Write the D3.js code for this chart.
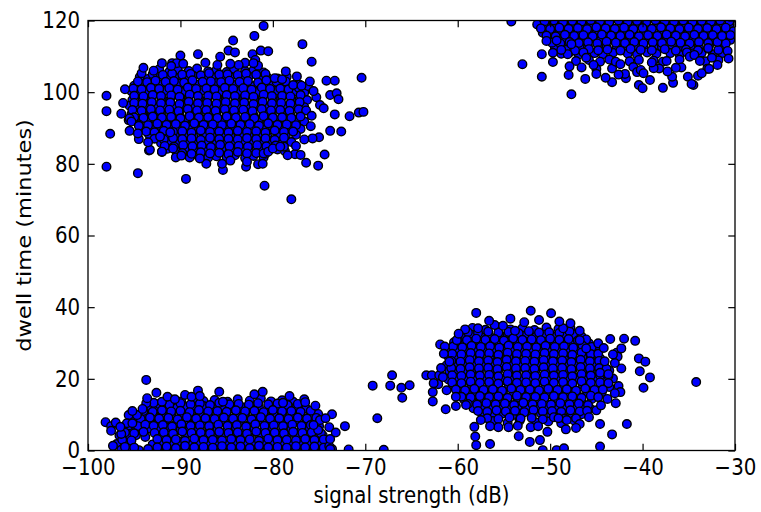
<!DOCTYPE html>
<html>
<head>
<meta charset="utf-8">
<script src="https://cdnjs.cloudflare.com/ajax/libs/d3/7.8.5/d3.min.js"></script>
<style>
  body { margin: 0; background: #fff; }
  text { font-family: "DejaVu Sans", sans-serif; fill: #000; }
</style>
</head>
<body>
<div id="chart"></div>
<script>
// Tick values
var xTicks = [-100, -90, -80, -70, -60, -50, -40, -30];
var yTicks = [0, 20, 40, 60, 80, 100, 120];

// Points, one array per cluster: [signal dB, dwell minutes]
var topLeft = [
  [-92.3,106.4],[-91.2,105.7],[-90.3,106.3],[-89.1,105.9],[-88.2,106.6],[-87.0,105.8],[-86.1,106.2],[-85.0,105.6],[-84.2,106.5],[-83.0,105.9],[-82.1,106.1],[-81.0,105.5],
  [-94.4,104.2],[-93.5,103.7],[-92.6,104.4],[-91.5,103.9],[-90.6,104.1],[-89.5,103.6],[-88.6,104.5],[-87.5,103.8],[-86.6,104.3],[-85.5,103.7],[-84.6,104.2],[-83.5,103.9],[-82.6,104.4],[-81.5,103.6],[-80.6,104.1],[-79.5,103.8],[-78.5,104.3],
  [-95.0,101.8],[-94.0,102.3],[-93.0,101.6],[-92.1,102.2],[-91.0,101.9],[-90.1,102.4],[-89.0,101.7],[-88.1,102.1],[-87.0,101.8],[-86.1,102.5],[-85.0,101.6],[-84.1,102.0],[-83.0,102.3],[-82.1,101.7],[-81.0,102.2],[-80.1,101.9],[-79.0,102.4],[-78.1,101.6],[-77.1,102.1],
  [-95.3,100.3],[-94.4,99.8],[-93.5,100.2],[-92.5,99.6],[-91.6,100.4],[-90.5,99.9],[-89.6,100.1],[-88.5,99.7],[-87.6,100.5],[-86.5,99.8],[-85.6,100.2],[-84.5,99.6],[-83.6,100.3],[-82.5,99.9],[-81.6,100.1],[-80.5,99.7],[-79.6,100.4],[-78.5,99.8],[-77.6,100.2],[-76.6,99.9],
  [-95.2,97.8],[-94.1,98.3],[-93.1,97.7],[-92.0,98.1],[-91.1,97.9],[-90.0,98.4],[-89.1,97.6],[-88.0,98.2],[-87.1,97.8],[-86.0,98.3],[-85.1,97.7],[-84.0,98.0],[-83.1,98.4],[-82.0,97.6],[-81.1,98.2],[-80.0,97.9],[-79.1,98.3],[-78.0,97.7],[-77.1,98.1],[-76.3,97.8],
  [-95.5,96.2],[-94.6,95.7],[-93.6,96.3],[-92.6,95.8],[-91.5,96.1],[-90.6,95.6],[-89.5,96.4],[-88.6,95.9],[-87.5,96.2],[-86.6,95.7],[-85.5,96.3],[-84.6,95.8],[-83.5,96.0],[-82.6,95.6],[-81.5,96.4],[-80.6,95.9],[-79.5,96.1],[-78.6,95.7],[-77.5,96.3],[-76.6,95.8],
  [-95.3,93.8],[-94.1,94.3],[-93.1,93.7],[-92.1,94.2],[-91.0,93.9],[-90.1,94.4],[-89.0,93.6],[-88.1,94.1],[-87.0,93.8],[-86.1,94.3],[-85.0,93.7],[-84.1,94.0],[-83.0,94.4],[-82.1,93.6],[-81.0,94.2],[-80.1,93.9],[-79.0,94.3],[-78.1,93.7],[-77.0,94.1],
  [-95.6,92.2],[-94.6,91.7],[-93.5,92.3],[-92.6,91.8],[-91.5,92.1],[-90.6,91.6],[-89.5,92.4],[-88.6,91.9],[-87.5,92.2],[-86.6,91.7],[-85.5,92.3],[-84.6,91.8],[-83.5,92.0],[-82.6,91.6],[-81.5,92.4],[-80.6,91.9],[-79.5,92.1],[-78.6,91.7],[-77.5,92.3],[-76.6,91.8],
  [-94.0,89.8],[-93.1,90.3],[-92.0,89.7],[-91.1,90.1],[-90.0,89.9],[-89.1,90.4],[-88.0,89.6],[-87.1,90.2],[-86.0,89.8],[-85.1,90.3],[-84.0,89.7],[-83.1,90.0],[-82.0,90.4],[-81.1,89.6],[-80.0,90.2],[-79.1,89.9],[-78.0,90.3],[-77.0,89.7],
  [-93.4,88.2],[-92.5,87.7],[-91.5,88.3],[-90.6,87.8],[-89.5,88.1],[-88.6,87.6],[-87.5,88.4],[-86.6,87.9],[-85.5,88.2],[-84.6,87.7],[-83.5,88.3],[-82.6,87.8],[-81.5,88.0],[-80.6,87.6],[-79.5,88.4],[-78.6,87.9],[-77.5,88.1],
  [-92.1,85.8],[-91.0,86.3],[-90.1,85.7],[-89.0,86.1],[-88.1,85.9],[-87.0,86.4],[-86.1,85.6],[-85.0,86.2],[-84.1,85.8],[-83.0,86.3],[-82.1,85.7],[-81.0,86.0],[-80.1,86.4],[-79.0,85.6],[-78.0,86.1],
  [-91.4,84.2],[-90.5,83.7],[-89.5,84.3],[-88.6,83.8],[-87.5,84.1],[-86.6,83.6],[-85.5,84.4],[-84.6,83.9],[-83.5,84.2],[-82.6,83.7],[-81.5,84.3],[-80.6,83.8],[-79.5,84.0],[-78.7,83.6],
  [-89.0,81.8],[-88.1,82.3],[-87.0,81.7],[-86.1,82.1],[-85.0,81.9],[-84.1,82.4],[-83.0,81.6],[-82.1,82.2],[-81.0,81.8],
  // in-between rows of the dense core
  [-93.0,105.0],[-91.9,104.8],[-90.9,105.2],[-89.8,104.9],[-88.9,105.1],[-87.8,104.7],[-86.9,105.3],[-85.8,104.9],[-84.9,105.0],[-83.8,104.8],[-82.9,105.2],[-81.8,104.9],[-80.8,105.1],
  [-94.6,103.0],[-93.6,102.8],[-92.7,103.2],[-91.6,102.9],[-90.7,103.1],[-89.6,102.7],[-88.7,103.3],[-87.6,102.9],[-86.7,103.0],[-85.6,102.8],[-84.7,103.2],[-83.6,102.9],[-82.7,103.1],[-81.6,102.7],[-80.7,103.3],[-79.6,102.9],[-78.6,103.0],
  [-95.1,101.0],[-94.2,100.8],[-93.2,101.2],[-92.3,100.9],[-91.2,101.1],[-90.3,100.7],[-89.2,101.3],[-88.3,100.9],[-87.2,101.0],[-86.3,100.8],[-85.2,101.2],[-84.3,100.9],[-83.2,101.1],[-82.3,100.7],[-81.2,101.3],[-80.3,100.9],[-79.2,101.0],[-78.3,100.8],[-77.2,101.2],
  [-95.0,99.0],[-94.0,98.8],[-93.0,99.2],[-92.1,98.9],[-91.0,99.1],[-90.1,98.7],[-89.0,99.3],[-88.1,98.9],[-87.0,99.0],[-86.1,98.8],[-85.0,99.2],[-84.1,98.9],[-83.0,99.1],[-82.1,98.7],[-81.0,99.3],[-80.1,98.9],[-79.0,99.0],[-78.1,98.8],[-77.0,99.2],
  [-95.0,97.0],[-94.1,96.8],[-93.1,97.2],[-92.1,96.9],[-91.1,97.1],[-90.1,96.7],[-89.1,97.3],[-88.1,96.9],[-87.1,97.0],[-86.1,96.8],[-85.1,97.2],[-84.1,96.9],[-83.1,97.1],[-82.1,96.7],[-81.1,97.3],[-80.1,96.9],[-79.1,97.0],[-78.1,96.8],[-77.1,97.2],
  [-95.2,95.0],[-94.2,94.8],[-93.2,95.2],[-92.2,94.9],[-91.2,95.1],[-90.2,94.7],[-89.2,95.3],[-88.2,94.9],[-87.2,95.0],[-86.2,94.8],[-85.2,95.2],[-84.2,94.9],[-83.2,95.1],[-82.2,94.7],[-81.2,95.3],[-80.2,94.9],[-79.2,95.0],[-78.2,94.8],[-77.2,95.2],[-76.4,94.9],
  [-95.0,93.0],[-94.0,92.8],[-93.0,93.2],[-92.0,92.9],[-91.0,93.1],[-90.0,92.7],[-89.0,93.3],[-88.0,92.9],[-87.0,93.0],[-86.0,92.8],[-85.0,93.2],[-84.0,92.9],[-83.0,93.1],[-82.0,92.7],[-81.0,93.3],[-80.0,92.9],[-79.0,93.0],[-78.0,92.8],[-77.0,93.2],
  [-94.5,91.0],[-93.5,90.8],[-92.5,91.2],[-91.5,90.9],[-90.5,91.1],[-89.5,90.7],[-88.5,91.3],[-87.5,90.9],[-86.5,91.0],[-85.5,90.8],[-84.5,91.2],[-83.5,90.9],[-82.5,91.1],[-81.5,90.7],[-80.5,91.3],[-79.5,90.9],[-78.5,91.0],[-77.5,90.8],
  [-93.7,89.0],[-92.8,88.8],[-91.8,89.2],[-90.8,88.9],[-89.8,89.1],[-88.8,88.7],[-87.8,89.3],[-86.8,88.9],[-85.8,89.0],[-84.8,88.8],[-83.8,89.2],[-82.8,88.9],[-81.8,89.1],[-80.8,88.7],[-79.8,89.3],[-78.8,88.9],[-77.8,89.0],
  [-92.8,87.0],[-91.8,86.8],[-90.8,87.2],[-89.8,86.9],[-88.8,87.1],[-87.8,86.7],[-86.8,87.3],[-85.8,86.9],[-84.8,87.0],[-83.8,86.8],[-82.8,87.2],[-81.8,86.9],[-80.8,87.1],[-79.8,86.7],[-78.8,87.3],
  [-91.7,85.0],[-90.7,84.8],[-89.7,85.2],[-88.7,84.9],[-87.7,85.1],[-86.7,84.7],[-85.7,85.3],[-84.7,84.9],[-83.7,85.0],[-82.7,84.8],[-81.7,85.2],[-80.7,84.9],[-79.7,85.1],[-78.8,84.8],
  [-89.8,83.0],[-88.8,82.8],[-87.8,83.2],[-86.8,82.9],[-85.8,83.1],[-84.8,82.7],[-83.8,83.3],[-82.8,82.9],[-81.8,83.0],[-80.8,82.8],
  // scattered edge
  [-98.0,99.0],[-98.0,94.7],[-97.6,88.4],[-98.0,79.2],[-94.6,77.4],[-89.4,75.8],[-95.5,92.7],[-95.3,91.8],[-95.5,89.2],[-94.5,90.6],
  [-94.5,86.9],[-93.4,83.7],[-92.0,83.3],[-90.5,81.8],[-92.0,108.1],[-90.0,110.2],[-88.1,110.6],[-81.0,118.5],[-82.0,115.7],[-84.3,114.4],
  [-76.8,113.4],[-84.8,111.6],[-84.1,111.1],[-81.3,111.6],[-80.5,111.4],[-75.8,108.5],[-82.2,110.6],[-81.9,109.0],[-81.6,107.4],[-85.7,109.9],
  [-74.2,103.2],[-73.3,103.2],[-70.4,104.0],[-76.2,101.7],[-73.8,99.2],[-73.1,99.7],[-72.9,98.0],[-75.3,98.6],[-74.9,96.4],[-74.5,95.5],
  [-73.3,93.8],[-71.7,93.3],[-70.7,94.3],[-70.2,94.5],[-73.8,89.2],[-72.6,89.0],[-75.0,87.4],[-75.7,87.1],[-74.4,82.6],[-75.1,79.5],
  [-77.6,82.7],[-77.0,82.5],[-76.4,80.3],[-80.9,73.9],[-78.0,70.1],[-85.4,78.3],[-87.2,80.0],[-82.9,79.2],[-81.6,79.9],[-81.1,80.0],
  [-92.9,106.0],[-94.2,105.3],[-90.9,108.1],[-90.4,108.1],[-89.7,107.9],[-87.3,108.2],[-83.0,108.2],[-83.7,107.6],[-82.1,108.1],[-79.8,103.9],
  [-79.0,103.6],[-77.8,102.0],[-76.9,101.8],[-92.2,87.6],[-91.1,88.8],[-90.8,84.3],[-92.0,83.4],[-93.3,83.9],[-87.9,81.5],[-85.5,80.0],
  [-81.0,82.9],[-80.5,83.4],[-80.0,84.3],[-79.2,84.8],
  [-96.2,97.0],[-96.4,94.0],[-96.0,100.8],[-94.0,106.8],[-91.0,107.3],[-86.0,107.6],[-84.6,107.9],[-78.6,105.8],[-77.4,104.4],[-76.0,103.0],
  [-75.6,100.3],[-75.8,93.4],[-75.9,90.5],[-76.6,86.8],[-77.5,85.0],[-78.4,82.4],[-82.8,80.6],[-84.6,80.9],[-89.9,82.3],[-93.5,86.0],[-94.6,88.5]
];

var topRight = [
  [-51.0,120.9],[-50.0,121.2],[-49.1,120.7],[-48.0,121.0],[-47.1,120.6],[-46.0,121.1],[-45.1,120.8],[-44.0,121.3],[-43.1,120.7],[-42.0,121.0],[-41.1,120.6],[-40.0,121.2],[-39.1,120.8],[-38.0,121.1],[-37.1,120.6],[-36.0,121.0],[-35.1,120.7],[-34.0,121.2],[-33.1,120.9],[-32.0,120.6],[-31.1,121.1],[-30.2,120.8],
  [-51.4,118.9],[-50.5,118.5],[-49.6,119.1],[-48.5,118.6],[-47.6,119.0],[-46.5,118.7],[-45.6,119.2],[-44.5,118.6],[-43.6,118.9],[-42.5,118.5],[-41.6,119.1],[-40.5,118.7],[-39.6,119.0],[-38.5,118.6],[-37.6,119.2],[-36.5,118.8],[-35.6,118.5],[-34.5,119.0],[-33.6,118.7],[-32.5,119.1],[-31.6,118.6],[-30.6,118.9],
  [-50.8,116.6],[-49.9,117.0],[-49.0,116.5],[-47.9,116.9],[-47.0,116.7],[-45.9,117.1],[-45.0,116.5],[-43.9,116.8],[-43.0,116.6],[-41.9,117.0],[-41.0,116.5],[-39.9,116.9],[-39.0,116.7],[-37.9,117.1],[-37.0,116.6],[-35.9,116.8],[-35.0,116.5],[-33.9,117.0],[-33.0,116.7],[-31.9,116.9],[-31.0,116.6],[-30.2,117.0],
  [-50.2,114.6],[-49.4,115.0],[-48.4,114.5],[-47.4,114.9],[-46.5,114.7],[-45.4,115.1],[-44.5,114.5],[-43.4,114.8],[-42.5,114.6],[-41.4,115.0],[-40.5,114.5],[-39.4,114.9],[-38.5,114.7],[-37.4,115.1],[-36.5,114.6],[-35.4,114.8],[-34.5,114.5],[-33.4,115.0],[-32.5,114.7],[-31.4,114.9],[-30.5,114.6],
  [-49.5,112.6],[-48.7,113.0],[-47.8,112.5],[-46.8,112.9],[-45.9,112.7],[-44.8,113.1],[-43.9,112.5],[-42.8,112.8],[-41.9,112.6],[-40.8,113.0],[-39.9,112.5],[-38.8,112.9],[-37.9,112.7],[-36.8,113.1],[-35.9,112.6],[-34.8,112.8],[-33.9,112.5],[-32.8,113.0],[-31.6,112.7],
  [-48.8,110.7],[-47.9,111.1],[-46.9,110.5],[-45.2,110.9],[-44.3,110.6],[-43.2,111.0],[-41.6,110.8],[-40.6,110.5],[-39.5,111.1],[-38.5,110.7],[-37.0,110.9],[-36.0,110.5],[-34.6,110.8],[-33.6,111.0],[-32.4,110.6],[-31.4,110.9],
  [-47.2,108.7],[-45.8,109.0],[-44.6,108.5],[-43.6,109.1],[-41.4,108.6],[-40.4,109.0],[-38.8,108.8],[-37.8,108.5],[-36.0,109.1],[-33.2,108.6],[-31.8,108.9],
  [-46.6,106.9],[-45.0,106.5],[-41.0,107.0],[-38.2,106.6],[-35.8,106.9],[-33.0,106.5],
  // in-between rows of the dense core
  [-50.6,119.8],[-49.6,120.0],[-48.6,119.6],[-47.6,119.9],[-46.6,119.7],[-45.6,120.1],[-44.6,119.8],[-43.6,119.6],[-42.6,120.0],[-41.6,119.7],[-40.6,119.9],[-39.6,119.6],[-38.6,120.1],[-37.6,119.8],[-36.6,119.7],[-35.6,120.0],[-34.6,119.6],[-33.6,119.9],[-32.6,119.7],[-31.6,120.0],[-30.6,119.8],
  [-51.0,117.8],[-50.0,117.6],[-49.0,118.0],[-48.0,117.7],[-47.0,117.9],[-46.0,117.6],[-45.0,118.1],[-44.0,117.8],[-43.0,117.7],[-42.0,118.0],[-41.0,117.6],[-40.0,117.9],[-39.0,117.7],[-38.0,118.1],[-37.0,117.8],[-36.0,117.6],[-35.0,118.0],[-34.0,117.7],[-33.0,117.9],[-32.0,117.6],[-31.0,118.0],
  [-50.4,115.8],[-49.4,115.6],[-48.4,116.0],[-47.4,115.7],[-46.4,115.9],[-45.4,115.6],[-44.4,116.1],[-43.4,115.8],[-42.4,115.7],[-41.4,116.0],[-40.4,115.6],[-39.4,115.9],[-38.4,115.7],[-37.4,116.1],[-36.4,115.8],[-35.4,115.6],[-34.4,116.0],[-33.4,115.7],[-32.4,115.9],[-31.4,115.6],[-30.5,115.9],
  [-49.8,113.8],[-48.9,113.6],[-47.9,114.0],[-46.9,113.7],[-45.9,113.9],[-44.9,113.6],[-43.9,114.1],[-42.9,113.8],[-41.9,113.7],[-40.9,114.0],[-39.9,113.6],[-38.9,113.9],[-37.9,113.7],[-36.9,114.1],[-35.9,113.8],[-34.9,113.6],[-33.9,114.0],[-32.9,113.7],[-31.9,113.9],[-31.0,113.6],
  [-48.3,111.8],[-47.3,111.6],[-45.8,112.0],[-44.8,111.7],[-43.8,111.9],[-42.4,111.6],[-41.3,112.1],[-40.2,111.8],[-39.0,111.7],[-37.6,112.0],[-36.4,111.6],[-35.3,111.9],[-34.0,111.7],[-32.9,112.1],[-31.8,111.8],
  // scattered edge
  [-54.2,119.7],[-50.9,110.6],[-53.0,107.8],[-50.9,104.3],[-48.0,104.8],[-47.7,99.4],[-46.2,103.7],[-45.0,105.1],[-43.3,102.8],[-41.8,103.9],
  [-40.4,102.0],[-40.0,101.1],[-39.2,103.4],[-37.8,101.2],[-36.7,102.6],[-35.1,104.3],[-34.5,102.0],[-34.0,104.6],[-33.6,105.3],[-32.8,106.5],
  [-48.1,110.6],[-46.4,111.1],[-46.1,109.6],[-45.3,107.6],[-43.3,106.6],[-42.9,108.5],[-42.4,107.8],[-41.9,105.1],[-40.6,105.6],[-40.2,106.2],
  [-39.9,105.3],[-38.8,106.7],[-37.4,108.7],[-36.4,106.8],[-35.2,111.1],[-34.9,109.9],[-34.4,110.4],[-33.8,108.7],[-32.9,112.3],[-32.5,109.6],
  [-31.9,114.0],[-31.4,115.7],[-30.8,111.5],[-50.4,114.3],[-49.3,114.4],[-48.8,111.8],[-47.7,113.4],[-34.7,102.3],
  [-49.7,108.4],[-47.9,107.2],[-44.0,104.0],[-42.6,104.9],[-39.0,108.3],[-36.8,104.3],[-37.3,105.8],[-31.9,107.6],[-30.7,109.4],[-49.7,111.0]
];

var bottomLeft = [
  [-91.0,14.2],[-89.9,13.7],[-88.6,14.4],[-87.5,13.8],[-86.3,14.1],[-84.9,13.6],[-83.8,14.3],[-82.5,13.9],[-81.3,14.5],[-80.2,13.7],[-79.0,14.0],[-77.8,13.6],
  [-93.3,12.2],[-92.4,11.7],[-91.5,12.3],[-90.4,11.8],[-89.5,12.1],[-88.4,11.6],[-87.5,12.4],[-86.4,11.9],[-85.5,12.2],[-84.4,11.7],[-83.5,12.3],[-82.4,11.8],[-81.5,12.0],[-80.4,11.6],[-79.5,12.4],[-78.4,11.9],[-77.5,12.1],[-76.4,11.7],
  [-94.6,9.8],[-93.8,10.3],[-92.9,9.7],[-91.9,10.1],[-91.0,9.9],[-89.9,10.4],[-89.0,9.6],[-87.9,10.2],[-87.0,9.8],[-85.9,10.3],[-85.0,9.7],[-83.9,10.0],[-83.0,10.4],[-81.9,9.6],[-81.0,10.2],[-79.9,9.9],[-79.0,10.3],[-77.9,9.7],[-77.0,10.1],[-75.9,9.8],[-75.1,10.2],
  [-95.0,8.2],[-94.1,7.7],[-93.4,8.3],[-92.4,7.8],[-91.5,8.1],[-90.4,7.6],[-89.5,8.4],[-88.4,7.9],[-87.5,8.2],[-86.4,7.7],[-85.5,8.3],[-84.4,7.8],[-83.5,8.0],[-82.4,7.6],[-81.5,8.4],[-80.4,7.9],[-79.5,8.1],[-78.4,7.7],[-77.5,8.3],[-76.4,7.8],[-75.5,8.0],
  [-96.1,5.8],[-95.2,6.3],[-94.3,5.7],[-93.3,6.1],[-92.5,5.9],[-91.5,6.4],[-90.0,5.6],[-89.0,6.2],[-88.0,5.8],[-86.9,6.3],[-86.0,5.7],[-84.9,6.0],[-84.0,6.4],[-82.9,5.6],[-82.0,6.2],[-80.9,5.9],[-80.0,6.3],[-78.9,5.7],[-78.0,6.1],[-76.9,5.8],[-76.0,6.2],[-75.1,5.7],
  [-96.6,4.2],[-95.6,3.7],[-94.8,4.3],[-93.8,3.8],[-92.0,4.1],[-91.0,3.6],[-89.5,4.4],[-88.5,3.9],[-87.5,4.2],[-86.5,3.7],[-85.5,4.3],[-84.5,3.8],[-83.5,4.0],[-82.5,3.6],[-81.5,4.4],[-80.5,3.9],[-79.5,4.1],[-78.5,3.7],[-77.5,4.3],[-76.5,3.8],[-75.5,4.0],[-74.6,4.2],
  [-96.9,1.8],[-96.0,2.3],[-93.0,1.7],[-92.0,2.1],[-91.0,1.9],[-90.0,2.4],[-89.0,1.6],[-88.0,2.2],[-87.0,1.8],[-86.0,2.3],[-85.0,1.7],[-84.0,2.0],[-83.0,2.4],[-82.0,1.6],[-81.0,2.2],[-80.0,1.9],[-79.0,2.3],[-78.0,1.7],[-77.0,2.1],[-76.0,1.8],[-75.0,2.2],[-74.1,1.9],
  [-96.4,0.2],[-95.4,0.5],[-94.5,0.1],[-93.5,0.4],[-92.5,0.2],[-91.5,0.6],[-90.5,0.1],[-89.5,0.3],[-88.5,0.5],[-87.5,0.2],[-86.5,0.4],[-85.5,0.1],[-84.5,0.5],[-83.5,0.3],[-82.5,0.2],[-81.5,0.6],[-80.5,0.1],[-79.5,0.4],[-78.5,0.3],[-77.5,0.5],[-76.5,0.1],[-75.5,0.3],[-74.5,0.2],[-73.6,0.4],
  // in-between rows of the dense core
  [-92.3,13.0],[-91.2,12.8],[-90.0,13.2],[-88.9,12.9],[-87.9,13.1],[-86.8,12.7],[-85.8,13.3],[-84.7,12.9],[-83.7,13.0],[-82.6,12.8],[-81.6,13.2],[-80.5,12.9],[-79.5,13.1],[-78.4,12.7],[-77.3,13.0],
  [-94.0,11.0],[-93.0,10.8],[-92.0,11.2],[-91.0,10.9],[-90.0,11.1],[-89.0,10.7],[-88.0,11.3],[-87.0,10.9],[-86.0,11.0],[-85.0,10.8],[-84.0,11.2],[-83.0,10.9],[-82.0,11.1],[-81.0,10.7],[-80.0,11.3],[-79.0,10.9],[-78.0,11.0],[-77.0,10.8],[-75.9,11.1],
  [-95.2,9.0],[-94.3,8.8],[-93.3,9.2],[-92.3,8.9],[-91.3,9.1],[-90.3,8.7],[-89.3,9.3],[-88.3,8.9],[-87.3,9.0],[-86.3,8.8],[-85.3,9.2],[-84.3,8.9],[-83.3,9.1],[-82.3,8.7],[-81.3,9.3],[-80.3,8.9],[-79.3,9.0],[-78.3,8.8],[-77.3,9.2],[-76.3,8.9],[-75.3,9.1],
  [-95.6,7.0],[-94.6,6.8],[-93.8,7.2],[-92.9,6.9],[-91.9,7.1],[-90.9,6.7],[-89.9,7.3],[-88.9,6.9],[-87.9,7.0],[-86.9,6.8],[-85.9,7.2],[-84.9,6.9],[-83.9,7.1],[-82.9,6.7],[-81.9,7.3],[-80.9,6.9],[-79.9,7.0],[-78.9,6.8],[-77.9,7.2],[-76.9,6.9],[-75.9,7.1],[-75.0,6.8],
  [-96.0,5.0],[-95.0,4.8],[-94.0,5.2],[-92.8,4.9],[-91.8,5.1],[-90.8,4.7],[-89.8,5.3],[-88.8,4.9],[-87.8,5.0],[-86.8,4.8],[-85.8,5.2],[-84.8,4.9],[-83.8,5.1],[-82.8,4.7],[-81.8,5.3],[-80.8,4.9],[-79.8,5.0],[-78.8,4.8],[-77.8,5.2],[-76.8,4.9],[-75.8,5.1],[-74.8,4.8],
  [-96.3,3.0],[-95.3,2.8],[-92.5,3.2],[-91.5,2.9],[-90.5,3.1],[-89.5,2.7],[-88.5,3.3],[-87.5,2.9],[-86.5,3.0],[-85.5,2.8],[-84.5,3.2],[-83.5,2.9],[-82.5,3.1],[-81.5,2.7],[-80.5,3.3],[-79.5,2.9],[-78.5,3.0],[-77.5,2.8],[-76.5,3.2],[-75.5,2.9],[-74.5,3.1],
  [-96.0,1.0],[-95.0,0.8],[-92.5,0.9],[-91.5,1.1],[-90.5,0.7],[-89.5,1.3],[-88.5,0.9],[-87.5,1.0],[-86.5,0.8],[-85.5,1.2],[-84.5,0.9],[-83.5,1.1],[-82.5,0.7],[-81.5,1.3],[-80.5,0.9],[-79.5,1.0],[-78.5,0.8],[-77.5,1.2],[-76.5,0.9],[-75.5,1.1],[-74.5,0.8],[-73.9,1.2],
  // scattered edge
  [-93.7,19.7],[-98.1,7.9],[-97.5,6.8],[-97.0,7.8],[-97.5,5.5],[-97.3,1.3],[-96.4,4.6],[-95.6,9.9],[-94.7,9.9],[-95.8,7.6],
  [-95.2,7.6],[-92.6,16.1],[-92.9,13.3],[-93.7,13.2],[-92.0,13.6],[-91.4,15.0],[-90.6,14.3],[-89.5,15.5],[-88.8,15.0],[-88.1,16.7],
  [-87.9,15.2],[-85.8,16.4],[-85.4,13.6],[-82.0,15.7],[-81.1,16.4],[-78.2,15.2],[-76.6,14.3],[-78.9,13.3],[-73.6,10.1],[-73.9,6.5],
  [-72.2,6.8],[-71.8,0.3],[-73.8,0.4],[-74.9,8.5],[-75.1,5.7],[-75.6,7.1],
  [-73.8,3.2],[-73.2,5.0],[-74.3,9.0],[-75.4,12.5],[-76.5,13.5],[-94.1,11.6],[-95.2,11.0],[-93.6,14.6],[-96.5,6.6]
];

var bottomRight = [
  [-58.4,34.2],[-57.0,33.7],[-55.6,34.4],[-54.3,33.8],[-53.0,34.1],[-51.7,33.6],[-50.4,34.3],[-49.1,33.9],[-47.8,34.2],
  [-59.4,31.8],[-58.5,32.3],[-57.5,31.7],[-56.6,32.1],[-55.5,31.9],[-54.6,32.4],[-53.5,31.6],[-52.6,32.2],[-51.5,31.8],[-50.6,32.3],[-49.5,31.7],[-48.6,32.0],[-47.5,32.4],[-46.6,31.8],
  [-60.4,30.2],[-59.5,29.7],[-58.6,30.3],[-57.5,29.8],[-56.6,30.1],[-55.5,29.6],[-54.6,30.4],[-53.5,29.9],[-52.6,30.2],[-51.5,29.7],[-50.6,30.3],[-49.5,29.8],[-48.6,30.0],[-47.5,29.6],[-46.5,30.4],[-45.8,29.9],
  [-60.7,27.8],[-59.9,28.3],[-59.0,27.7],[-58.0,28.1],[-57.1,27.9],[-56.0,28.4],[-55.1,27.6],[-54.0,28.2],[-53.1,27.8],[-52.0,28.3],[-51.1,27.7],[-50.0,28.0],[-49.1,28.4],[-48.0,27.6],[-47.1,28.2],[-46.0,27.9],[-45.1,28.3],
  [-61.0,26.2],[-60.2,25.7],[-59.4,26.3],[-58.5,25.8],[-57.6,26.1],[-56.5,25.6],[-55.6,26.4],[-54.5,25.9],[-53.6,26.2],[-52.5,25.7],[-51.6,26.3],[-50.5,25.8],[-49.6,26.0],[-48.5,25.6],[-47.6,26.4],[-46.5,25.9],[-45.6,26.1],[-44.6,25.7],
  [-61.2,23.8],[-60.3,24.3],[-59.0,23.7],[-58.0,24.1],[-57.1,23.9],[-56.0,24.4],[-55.1,23.6],[-54.0,24.2],[-53.1,23.8],[-52.0,24.3],[-51.1,23.7],[-50.0,24.0],[-49.1,24.4],[-48.0,23.6],[-47.1,24.2],[-46.0,23.9],[-45.1,24.3],[-44.2,23.7],
  [-60.9,22.2],[-60.0,21.7],[-59.4,22.3],[-58.5,21.8],[-57.6,22.1],[-56.5,21.6],[-55.6,22.4],[-54.5,21.9],[-53.6,22.2],[-52.5,21.7],[-51.6,22.3],[-50.5,21.8],[-49.6,22.0],[-48.5,21.6],[-47.6,22.4],[-46.5,21.9],[-45.6,22.1],[-44.5,21.7],[-43.6,22.3],
  [-61.0,19.8],[-60.1,20.3],[-59.0,19.7],[-58.0,20.1],[-57.1,19.9],[-56.0,20.4],[-55.1,19.6],[-54.0,20.2],[-53.1,19.8],[-52.0,20.3],[-51.1,19.7],[-50.0,20.0],[-49.1,20.4],[-48.0,19.6],[-47.1,20.2],[-46.0,19.9],[-45.1,20.3],[-44.0,19.7],[-43.2,20.1],
  [-60.5,18.2],[-59.6,17.7],[-58.5,18.3],[-57.6,17.8],[-56.5,18.1],[-55.6,17.6],[-54.5,18.4],[-53.6,17.9],[-52.5,18.2],[-51.6,17.7],[-50.5,18.3],[-49.6,17.8],[-48.5,18.0],[-47.6,17.6],[-46.5,18.4],[-45.6,17.9],[-44.5,18.1],[-43.6,17.7],
  [-59.9,15.8],[-59.0,16.3],[-58.0,15.7],[-57.1,16.1],[-56.0,15.9],[-55.1,16.4],[-54.0,15.6],[-53.1,16.2],[-52.0,15.8],[-51.1,16.3],[-50.0,15.7],[-49.1,16.0],[-48.0,16.4],[-47.1,15.6],[-46.0,16.2],[-45.1,15.9],[-44.4,16.3],
  [-59.3,14.2],[-58.5,13.7],[-57.5,14.3],[-56.6,13.8],[-55.5,14.1],[-54.6,13.6],[-53.5,14.4],[-52.6,13.9],[-51.5,14.2],[-50.6,13.7],[-49.5,14.3],[-48.6,13.8],[-47.5,14.0],[-46.6,13.6],[-45.5,14.4],
  [-58.3,11.8],[-57.4,12.3],[-56.5,11.7],[-55.5,12.1],[-54.6,11.9],[-53.5,12.4],[-52.6,11.6],[-51.5,12.2],[-50.6,11.8],[-49.5,12.3],[-48.6,11.7],[-47.5,12.0],[-46.6,12.4],[-45.7,11.8],
  [-57.3,10.2],[-56.2,9.7],[-55.2,10.3],[-54.1,9.8],[-53.1,10.1],[-52.0,9.6],[-51.0,10.4],[-49.9,9.9],[-48.9,10.2],[-47.8,9.7],[-46.6,10.1],
  [-56.2,8.2],[-54.6,7.7],[-53.3,8.3],[-51.5,7.8],[-50.2,8.1],[-48.8,7.6],[-47.4,8.4],
  // in-between rows of the dense core
  [-58.9,33.0],[-57.8,32.8],[-56.7,33.2],[-55.6,32.9],[-54.5,33.1],[-53.4,32.7],[-52.3,33.3],[-51.2,32.9],[-50.1,33.0],[-49.0,32.8],[-47.9,33.2],
  [-60.0,31.0],[-59.0,30.8],[-58.0,31.2],[-57.0,30.9],[-56.0,31.1],[-55.0,30.7],[-54.0,31.3],[-53.0,30.9],[-52.0,31.0],[-51.0,30.8],[-50.0,31.2],[-49.0,30.9],[-48.0,31.1],[-47.0,30.7],[-46.1,31.0],
  [-60.5,29.0],[-59.5,28.8],[-58.5,29.2],[-57.5,28.9],[-56.5,29.1],[-55.5,28.7],[-54.5,29.3],[-53.5,28.9],[-52.5,29.0],[-51.5,28.8],[-50.5,29.2],[-49.5,28.9],[-48.5,29.1],[-47.5,28.7],[-46.5,29.3],[-45.5,28.9],
  [-60.6,27.0],[-59.6,26.8],[-58.6,27.2],[-57.6,26.9],[-56.6,27.1],[-55.6,26.7],[-54.6,27.3],[-53.6,26.9],[-52.6,27.0],[-51.6,26.8],[-50.6,27.2],[-49.6,26.9],[-48.6,27.1],[-47.6,26.7],[-46.6,27.3],[-45.6,26.9],[-44.8,27.0],
  [-60.7,25.0],[-59.7,24.8],[-58.7,25.2],[-57.7,24.9],[-56.7,25.1],[-55.7,24.7],[-54.7,25.3],[-53.7,24.9],[-52.7,25.0],[-51.7,24.8],[-50.7,25.2],[-49.7,24.9],[-48.7,25.1],[-47.7,24.7],[-46.7,25.3],[-45.7,24.9],[-44.7,25.0],
  [-60.7,23.0],[-59.7,22.8],[-58.7,23.2],[-57.7,22.9],[-56.7,23.1],[-55.7,22.7],[-54.7,23.3],[-53.7,22.9],[-52.7,23.0],[-51.7,22.8],[-50.7,23.2],[-49.7,22.9],[-48.7,23.1],[-47.7,22.7],[-46.7,23.3],[-45.7,22.9],[-44.7,23.0],[-43.9,22.8],
  [-60.6,21.0],[-59.6,20.8],[-58.6,21.2],[-57.6,20.9],[-56.6,21.1],[-55.6,20.7],[-54.6,21.3],[-53.6,20.9],[-52.6,21.0],[-51.6,20.8],[-50.6,21.2],[-49.6,20.9],[-48.6,21.1],[-47.6,20.7],[-46.6,21.3],[-45.6,20.9],[-44.6,21.0],[-43.7,20.8],
  [-60.6,19.0],[-59.6,18.8],[-58.6,19.2],[-57.6,18.9],[-56.6,19.1],[-55.6,18.7],[-54.6,19.3],[-53.6,18.9],[-52.6,19.0],[-51.6,18.8],[-50.6,19.2],[-49.6,18.9],[-48.6,19.1],[-47.6,18.7],[-46.6,19.3],[-45.6,18.9],[-44.6,19.0],[-43.7,18.8],
  [-60.2,17.0],[-59.2,16.8],[-58.2,17.2],[-57.2,16.9],[-56.2,17.1],[-55.2,16.7],[-54.2,17.3],[-53.2,16.9],[-52.2,17.0],[-51.2,16.8],[-50.2,17.2],[-49.2,16.9],[-48.2,17.1],[-47.2,16.7],[-46.2,17.3],[-45.2,16.9],[-44.3,17.0],
  [-59.6,15.0],[-58.6,14.8],[-57.6,15.2],[-56.6,14.9],[-55.6,15.1],[-54.6,14.7],[-53.6,15.3],[-52.6,14.9],[-51.6,15.0],[-50.6,14.8],[-49.6,15.2],[-48.6,14.9],[-47.6,15.1],[-46.6,14.7],[-45.6,15.3],[-44.8,14.9],
  [-58.9,13.0],[-57.9,12.8],[-56.9,13.2],[-55.9,12.9],[-54.9,13.1],[-53.9,12.7],[-52.9,13.3],[-51.9,12.9],[-50.9,13.0],[-49.9,12.8],[-48.9,13.2],[-47.9,12.9],[-46.9,13.1],[-45.9,12.7],
  [-57.8,11.0],[-56.8,10.8],[-55.8,11.2],[-54.8,10.9],[-53.8,11.1],[-52.8,10.7],[-51.8,11.3],[-50.8,10.9],[-49.8,11.0],[-48.8,10.8],[-47.8,11.2],[-46.8,10.9],[-46.0,11.1],
  [-56.8,9.0],[-55.6,8.8],[-54.4,9.2],[-53.2,8.9],[-52.0,9.1],[-50.8,8.7],[-49.6,9.3],[-48.4,8.9],[-47.2,9.0],
  // scattered edge
  [-67.1,21.0],[-67.3,18.1],[-66.1,17.5],[-65.2,18.2],[-66.0,14.7],[-63.4,21.0],[-62.8,21.0],[-62.0,21.0],[-62.1,18.5],[-62.7,16.3],
  [-62.7,13.7],[-61.3,11.5],[-58.0,38.4],[-52.1,39.0],[-49.9,38.3],[-51.2,36.4],[-52.8,35.8],[-61.9,29.6],[-61.4,29.0],[-60.9,24.8],
  [-60.2,15.0],[-60.2,12.4],[-59.1,12.7],[-58.2,6.6],[-58.1,3.9],[-58.0,1.5],[-56.5,1.8],[-55.6,6.5],[-54.5,6.5],[-53.4,4.0],
  [-52.2,2.4],[-51.1,2.9],[-52.1,6.5],[-50.8,0.1],[-49.3,0.1],[-48.5,0.6],[-48.3,5.9],[-46.8,7.4],[-44.6,7.4],[-43.3,4.5],
  [-41.7,7.4],[-44.6,1.1],[-44.8,29.9],[-43.5,31.1],[-42.0,31.2],[-40.8,30.6],[-42.8,27.3],[-42.7,26.2],[-42.3,28.5],[-40.4,25.7],
  [-39.7,24.8],[-40.3,22.1],[-39.2,20.4],[-39.9,17.5],[-34.2,19.1],[-42.3,22.9],[-42.6,18.0],[-42.4,16.3],[-42.9,13.2],[-44.6,21.7],
  [-44.1,24.9],[-43.7,21.3],[-60.1,30.8],[-59.2,33.8],[-57.8,34.1],[-56.0,35.0],[-55.1,34.8],[-53.8,33.4],[-48.6,34.1],[-47.8,35.5],
  [-46.8,30.8],[-46.1,28.5],[-69.2,18.1],[-68.7,9.0],[-68.0,0.2],[-51.3,6.8],[-49.1,9.0],[-48.2,8.5],[-62.6,18.8],
  [-61.5,27.0],[-61.8,23.0],[-61.6,20.5],[-61.2,16.8],[-57.5,8.5],[-56.5,6.8],[-53.5,6.9],[-50.3,5.2],[-47.2,6.3],[-45.8,9.3],
  [-45.0,11.2],[-43.0,24.4],[-43.2,26.8],[-44.2,28.6],[-43.0,16.0],[-43.8,14.4],[-44.5,12.6],[-56.6,36.2],[-54.3,36.8],[-49.0,36.0],
  [-46.8,33.4],[-59.9,32.6]
];

var width = 761, height = 512;
var plot = { left: 88, right: 735, top: 20.5, bottom: 450.5 };
var tickLen = 6.7;
var fontSize = 22.5;
var squeeze = 0.88; // glyphs in the picture are narrower than they are tall

var svg = d3.select("#chart")
  .append("svg")
  .attr("width", width)
  .attr("height", height)
  .style("display", "block");

svg.append("rect")
  .attr("width", width)
  .attr("height", height)
  .attr("fill", "#fff");

var x = d3.scaleLinear().domain([-100, -30]).range([plot.left, plot.right]);
var y = d3.scaleLinear().domain([0, 120]).range([plot.bottom, plot.top]);

// clip the markers at the axes box like matplotlib does
svg.append("clipPath")
  .attr("id", "plot-clip")
  .append("rect")
  .attr("x", plot.left)
  .attr("y", plot.top)
  .attr("width", plot.right - plot.left)
  .attr("height", plot.bottom - plot.top);

var points = topLeft.concat(topRight, bottomLeft, bottomRight);

svg.append("g")
  .attr("clip-path", "url(#plot-clip)")
  .selectAll("circle")
  .data(points)
  .enter()
  .append("circle")
    .attr("cx", function(d) { return x(d[0]); })
    .attr("cy", function(d) { return y(d[1]); })
    .attr("r", 4.3)
    .attr("fill", "#0000ff")
    .attr("stroke", "#000")
    .attr("stroke-width", 1.4);

// axes with inward ticks on all four sides
var fmt = d3.format("d");

var xAxis = svg.append("g")
  .attr("transform", "translate(0," + plot.bottom + ")")
  .call(d3.axisBottom(x).tickValues(xTicks).tickFormat(fmt).tickSizeInner(-tickLen).tickSizeOuter(0).tickPadding(9));

var xTop = svg.append("g")
  .attr("transform", "translate(0," + plot.top + ")")
  .call(d3.axisTop(x).tickValues(xTicks).tickFormat("").tickSizeInner(-tickLen).tickSizeOuter(0));

var yAxis = svg.append("g")
  .attr("transform", "translate(" + plot.left + ",0)")
  .call(d3.axisLeft(y).tickValues(yTicks).tickFormat(fmt).tickSizeInner(-tickLen).tickSizeOuter(0).tickPadding(9));

var yRight = svg.append("g")
  .attr("transform", "translate(" + plot.right + ",0)")
  .call(d3.axisRight(y).tickValues(yTicks).tickFormat("").tickSizeInner(-tickLen).tickSizeOuter(0));

[xAxis, xTop, yAxis, yRight].forEach(function(g) {
  g.select(".domain").remove();
  g.selectAll(".tick line").attr("stroke", "#000").attr("stroke-width", 1.2);
  g.selectAll(".tick text")
    .style("font-family", "'DejaVu Sans', sans-serif")
    .style("font-size", fontSize + "px")
    .attr("fill", "#000")
    .attr("transform", "scale(" + squeeze + ",1)");
});

// frame
svg.append("rect")
  .attr("x", plot.left)
  .attr("y", plot.top)
  .attr("width", plot.right - plot.left)
  .attr("height", plot.bottom - plot.top)
  .attr("fill", "none")
  .attr("stroke", "#000")
  .attr("stroke-width", 1.3);

// axis titles
svg.append("text")
  .attr("transform", "translate(" + ((plot.left + plot.right) / 2) + ",503) scale(" + squeeze + ",1)")
  .attr("text-anchor", "middle")
  .style("font-size", fontSize + "px")
  .text("signal strength (dB)");

svg.append("text")
  .attr("transform", "translate(31," + ((plot.top + plot.bottom) / 2) + ") rotate(-90) scale(1," + squeeze + ")")
  .attr("text-anchor", "middle")
  .style("font-size", fontSize + "px")
  .text("dwell time (minutes)");
</script>
</body>
</html>
